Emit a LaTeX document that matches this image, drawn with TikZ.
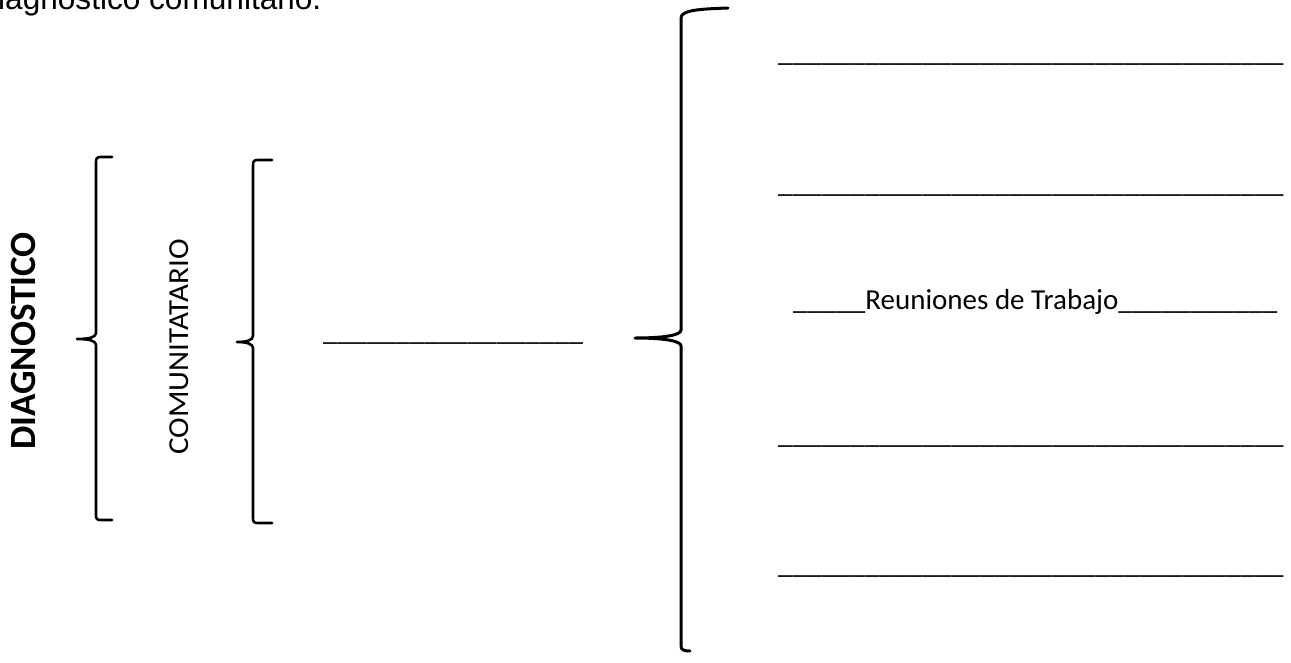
\documentclass[tikz,border=0pt]{standalone}
\usepackage{fontspec}
\setmainfont{Carlito}
\newfontfamily\arialfont{Liberation Sans}
\begin{document}
\begin{tikzpicture}[x=1pt,y=-1pt,
  brace/.style={line width=2.6pt, line cap=round, line join=round},
  bigbrace/.style={line width=3pt, line cap=round, line join=round},
  bodytext/.style={inner sep=0pt, font=\fontsize{29}{35}\selectfont},
  blank/.style={bodytext, anchor=base west}]
\useasboundingbox (0,0) rectangle (1291,662);
\clip (0,0) rectangle (1291,662);
\fill[white] (0,0) rectangle (1291,662);
% heading (cut by the page edge)
\node[inner sep=0pt, anchor=base west, font=\arialfont\fontsize{31.6}{38}\selectfont] (head) at (-19.6,9) {diagnostico comunitario.};
% rotated labels
\node[inner sep=0pt, anchor=base, rotate=90, font=\fontsize{37}{44}\selectfont\bfseries] (diag) at (35,341) {DIAGNOSTICO};
\node[bodytext, anchor=base, rotate=90] (comu) at (188,347) {\scalebox{1.07}[1]{COMUNITATARIO}};
% brace 1
\draw[brace] (112,157) -- (101,157) .. controls (97,157) and (96,158) .. (96,162) -- (96,333)
  .. controls (96,337) and (90,339) .. (77,339)
  .. controls (90,339) and (96,341) .. (96,345) -- (96,515)
  .. controls (96,519) and (97,520) .. (101,520) -- (112,520);
% brace 2
\draw[brace] (272,160) -- (258,160) .. controls (254,160) and (253,161) .. (253,165) -- (253,336)
  .. controls (253,340) and (247,342) .. (237,342)
  .. controls (247,342) and (253,344) .. (253,348) -- (253,518)
  .. controls (253,522) and (254,523) .. (258,523) -- (272,523);
% middle blank
\node[blank] (mid) at (323,340) {\_\_\_\_\_\_\_\_\_\_\_\_\_\_\_\_\_\_};
% brace 3
\draw[bigbrace] (728,8) .. controls (700,9) and (681,10) .. (681,18) -- (681,330)
  .. controls (681,335) and (665,338) .. (635,338)
  .. controls (665,338) and (681,341) .. (681,346) -- (681,646)
  .. controls (681,650) and (684,651) .. (690,651);
% right blanks
\node[blank] (l1) at (778,61) {\_\_\_\_\_\_\_\_\_\_\_\_\_\_\_\_\_\_\_\_\_\_\_\_\_\_\_\_\_\_\_\_\_\_\_};
\node[blank] (l2) at (778,192) {\_\_\_\_\_\_\_\_\_\_\_\_\_\_\_\_\_\_\_\_\_\_\_\_\_\_\_\_\_\_\_\_\_\_\_};
\node[blank] (l3) at (793,309) {\_\_\_\_\_Reuniones de Trabajo\_\_\_\_\_\_\_\_\_\_\_};
\node[blank] (l4) at (778,443) {\_\_\_\_\_\_\_\_\_\_\_\_\_\_\_\_\_\_\_\_\_\_\_\_\_\_\_\_\_\_\_\_\_\_\_};
\node[blank] (l5) at (778,573) {\_\_\_\_\_\_\_\_\_\_\_\_\_\_\_\_\_\_\_\_\_\_\_\_\_\_\_\_\_\_\_\_\_\_\_};
\end{tikzpicture}
\end{document}
